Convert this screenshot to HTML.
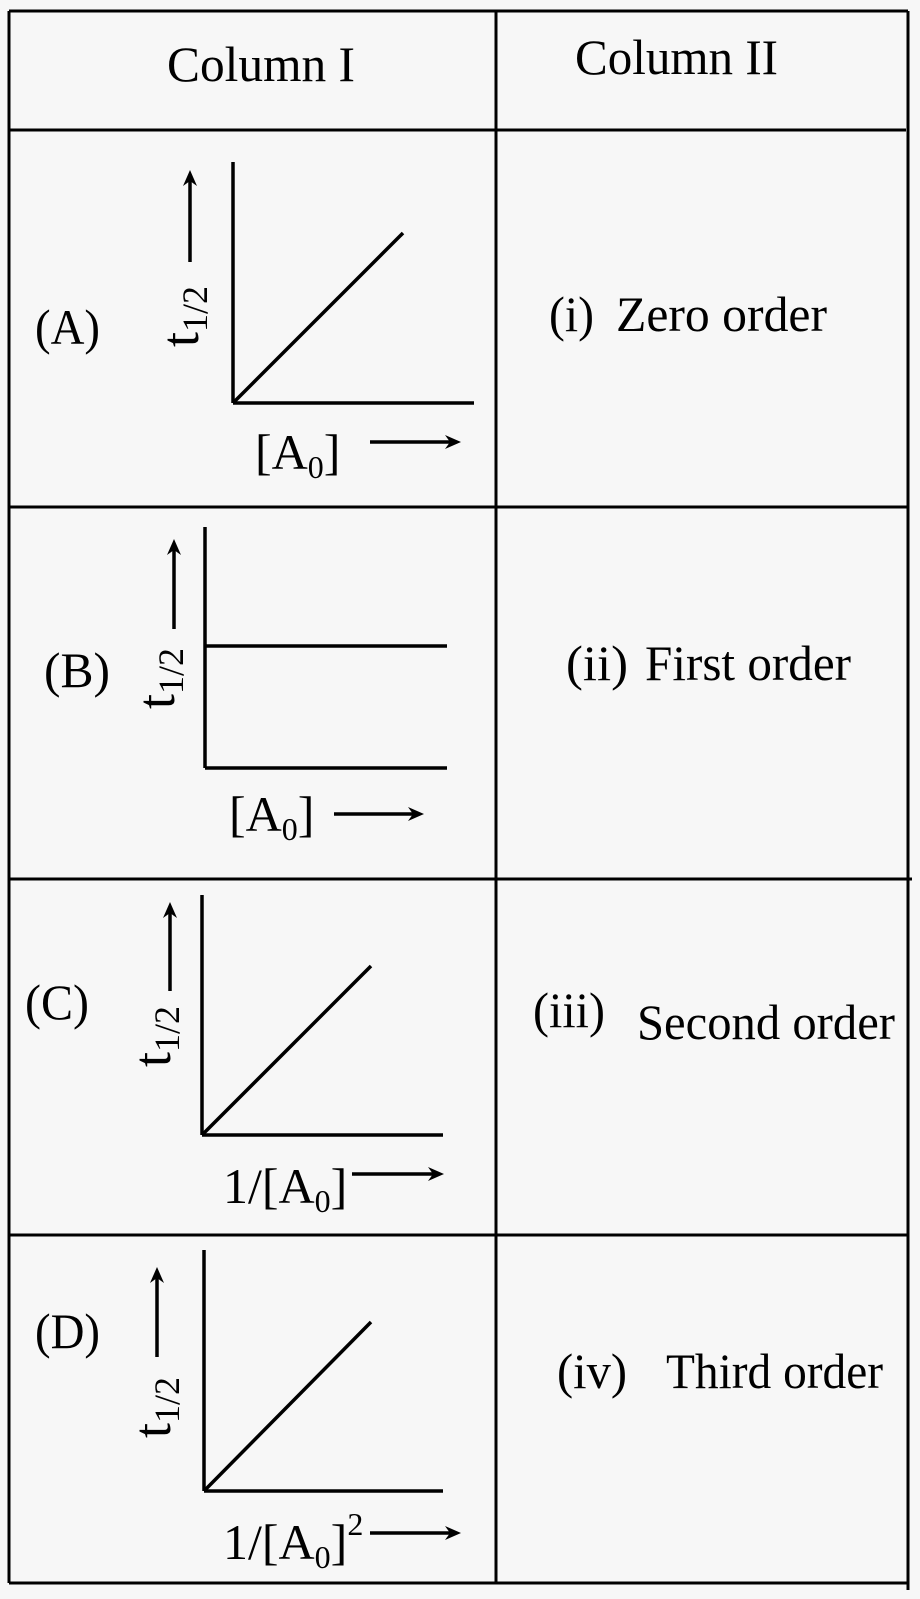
<!DOCTYPE html>
<html><head><meta charset="utf-8"><style>
html,body{margin:0;padding:0;background:#f7f7f7;}
svg{display:block}
text{font-family:"Liberation Serif",serif;fill:#000;}
</style></head><body>
<svg width="920" height="1599" viewBox="0 0 920 1599" xmlns="http://www.w3.org/2000/svg">
<rect width="920" height="1599" fill="#f7f7f7"/>
<g stroke="#000" stroke-width="3" fill="none">
<line x1="9" y1="11" x2="908" y2="11"/>
<line x1="9" y1="130" x2="906" y2="130"/>
<line x1="9" y1="507" x2="908" y2="507"/>
<line x1="9" y1="879" x2="912" y2="879"/>
<line x1="9" y1="1235" x2="908" y2="1235"/>
<line x1="9" y1="1583" x2="908" y2="1583"/>
<line x1="9" y1="11" x2="9" y2="1583"/>
<line x1="496" y1="11" x2="496" y2="1583"/>
<line x1="908" y1="11" x2="908" y2="1590"/>
</g>
<g stroke="#000" stroke-width="3.5" fill="none">
<!-- A -->
<line x1="233" y1="162" x2="233" y2="403"/>
<line x1="233" y1="403" x2="474" y2="403"/>
<line x1="233" y1="403" x2="403" y2="233"/>
<line x1="190" y1="176" x2="190" y2="262"/>
<line x1="370" y1="442" x2="452" y2="442"/>
<!-- B -->
<line x1="205" y1="527" x2="205" y2="768"/>
<line x1="205" y1="768" x2="447" y2="768"/>
<line x1="205" y1="646" x2="447" y2="646"/>
<line x1="174" y1="545" x2="174" y2="629"/>
<line x1="334" y1="814" x2="416" y2="814"/>
<!-- C -->
<line x1="202" y1="895" x2="202" y2="1135"/>
<line x1="202" y1="1135" x2="443" y2="1135"/>
<line x1="202" y1="1135" x2="371" y2="966"/>
<line x1="170" y1="908" x2="170" y2="991"/>
<line x1="352" y1="1174" x2="436" y2="1174"/>
<!-- D -->
<line x1="204" y1="1250" x2="204" y2="1491"/>
<line x1="204" y1="1491" x2="443" y2="1491"/>
<line x1="204" y1="1491" x2="371" y2="1322"/>
<line x1="157" y1="1273" x2="157" y2="1357"/>
<line x1="370" y1="1533" x2="452" y2="1533"/>
</g>
<g fill="#000" stroke="none">
<polygon points="183,186 190,170 197,186 190,181"/>
<polygon points="445,435 461,442 445,449 450,442"/>
<polygon points="167,555 174,539 181,555 174,550"/>
<polygon points="408,807 424,814 408,821 413,814"/>
<polygon points="163,918 170,902 177,918 170,913"/>
<polygon points="428,1167 444,1174 428,1181 433,1174"/>
<polygon points="150,1283 157,1267 164,1283 157,1278"/>
<polygon points="445,1526 461,1533 445,1540 450,1533"/>
</g>
<g font-size="50">
<text x="167" y="81" textLength="188" lengthAdjust="spacingAndGlyphs">Column I</text>
<text x="575" y="74" textLength="203" lengthAdjust="spacingAndGlyphs">Column II</text>
<text x="35" y="344" textLength="65" lengthAdjust="spacingAndGlyphs">(A)</text>
<text x="44" y="687" textLength="66" lengthAdjust="spacingAndGlyphs">(B)</text>
<text x="25" y="1019" textLength="64" lengthAdjust="spacingAndGlyphs">(C)</text>
<text x="35" y="1348" textLength="65" lengthAdjust="spacingAndGlyphs">(D)</text>
<text x="549" y="331" textLength="45" lengthAdjust="spacingAndGlyphs">(i)</text>
<text x="616" y="331" textLength="211" lengthAdjust="spacingAndGlyphs">Zero order</text>
<text x="566" y="680" textLength="62" lengthAdjust="spacingAndGlyphs">(ii)</text>
<text x="645" y="680" textLength="206" lengthAdjust="spacingAndGlyphs">First order</text>
<text x="533" y="1027" textLength="72" lengthAdjust="spacingAndGlyphs">(iii)</text>
<text x="637" y="1039" textLength="258" lengthAdjust="spacingAndGlyphs">Second order</text>
<text x="557" y="1388" textLength="70" lengthAdjust="spacingAndGlyphs">(iv)</text>
<text x="666" y="1388" textLength="217" lengthAdjust="spacingAndGlyphs">Third order</text>
<text x="255" y="469">[A<tspan font-size="32" dy="9">0</tspan><tspan dy="-9">]</tspan></text>
<text x="229" y="831">[A<tspan font-size="32" dy="9">0</tspan><tspan dy="-9">]</tspan></text>
<text x="223" y="1203">1/[A<tspan font-size="32" dy="9">0</tspan><tspan dy="-9">]</tspan></text>
<text x="223" y="1559">1/[A<tspan font-size="32" dy="9">0</tspan><tspan dy="-9">]</tspan><tspan font-size="32" dy="-24">2</tspan></text>
</g>
<g font-size="54">
<text transform="translate(198,347) rotate(-90)">t<tspan font-size="36" dy="9">1/2</tspan></text>
<text transform="translate(174,709) rotate(-90)">t<tspan font-size="36" dy="9">1/2</tspan></text>
<text transform="translate(170,1067) rotate(-90)">t<tspan font-size="36" dy="9">1/2</tspan></text>
<text transform="translate(170,1438) rotate(-90)">t<tspan font-size="36" dy="9">1/2</tspan></text>
</g>
</svg>
</body></html>
